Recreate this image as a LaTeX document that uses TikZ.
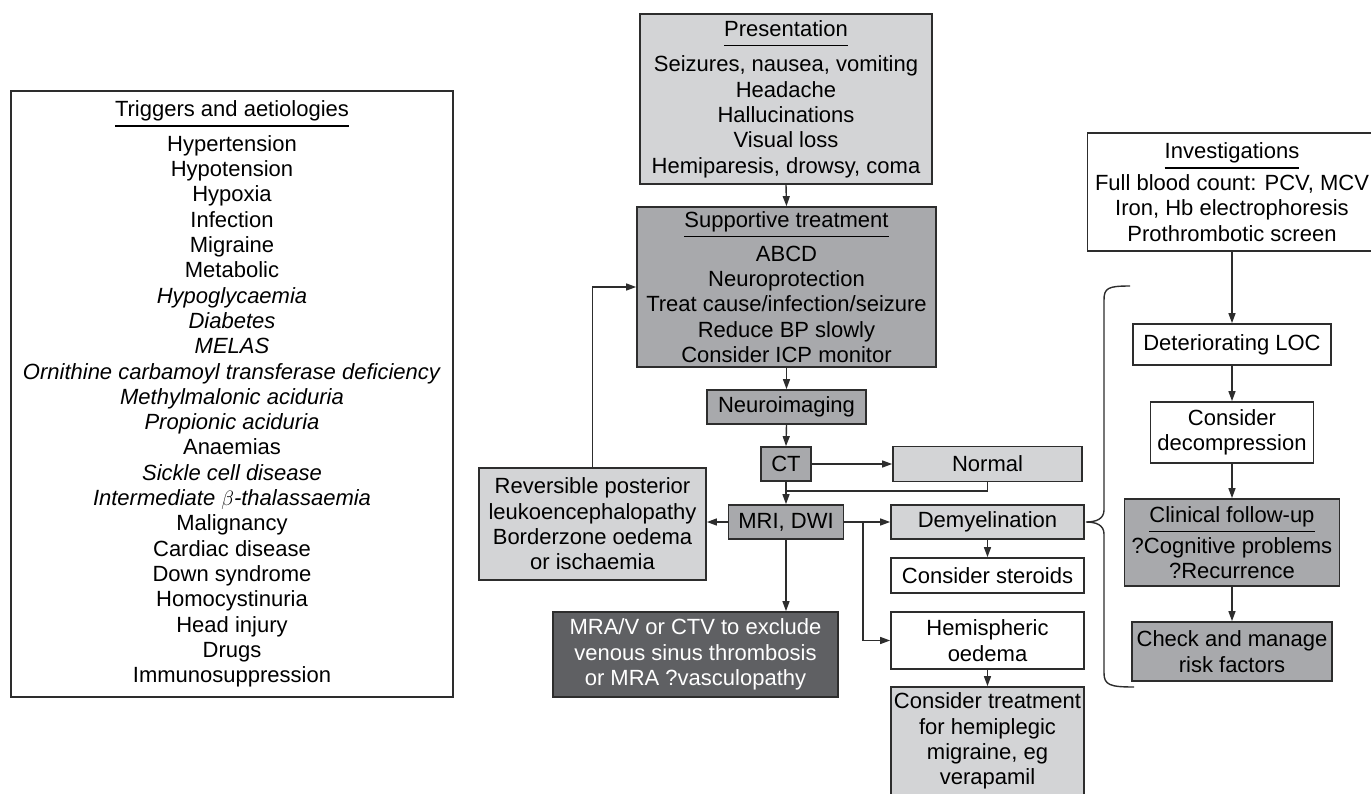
\documentclass[tikz,border=0pt]{standalone}
\usepackage{fontspec}
\setmainfont{Liberation Sans}
\usetikzlibrary{arrows.meta}

\definecolor{lightgrey}{RGB}{211,212,214}
\definecolor{midgrey}{RGB}{168,169,172}
\definecolor{darkgrey}{RGB}{95,96,99}
\definecolor{edgegrey}{RGB}{45,45,45}

\newcommand{\boxtitle}[1]{\setbox0\hbox{#1}\rlap{\rule[-10pt]{\wd0}{1.6pt}}\box0}

\tikzset{
  box/.style={draw=edgegrey, line width=1.7pt, align=center, inner sep=0pt,
    font=\fontsize{22}{25.3}\selectfont},
  plain/.style={box, fill=white},
  light/.style={box, fill=lightgrey},
  mid/.style={box, fill=midgrey},
  dark/.style={box, fill=darkgrey, text=white},
  link/.style={line width=1.4pt, draw=edgegrey},
  arr/.style={link, -{Triangle[length=10pt,width=7pt]}}
}

\begin{document}
\begin{tikzpicture}[x=1pt,y=-1pt]
    \useasboundingbox (0,0) rectangle (1371,793);
    \clip (0,0) rectangle (1371,793);

    % left column
    \node [plain, minimum width=442pt, minimum height=606pt] (trig) at (232,394)
      {\boxtitle{Triggers and aetiologies}\\[7.7pt]
       Hypertension\\ Hypotension\\ Hypoxia\\ Infection\\ Migraine\\ Metabolic\\
       \textit{Hypoglycaemia}\\ \textit{Diabetes}\\ \textit{MELAS}\\
       \textit{Ornithine carbamoyl transferase deficiency}\\
       \textit{Methylmalonic aciduria}\\ \textit{Propionic aciduria}\\
       Anaemias\\ \textit{Sickle cell disease}\\ \textit{Intermediate $\beta$-thalassaemia}\\
       Malignancy\\ Cardiac disease\\ Down syndrome\\ Homocystinuria\\
       Head injury\\ Drugs\\ Immunosuppression};

    % centre column
    \node [light, minimum width=292pt, minimum height=170pt] (pres) at (786,99)
      {\boxtitle{Presentation}\\[8.5pt]
       Seizures, nausea, vomiting\\ Headache\\ Hallucinations\\ Visual loss\\
       Hemiparesis, drowsy, coma};
    \node [mid, minimum width=299pt, minimum height=160pt] (supp) at (786.5,287)
      {\boxtitle{Supportive treatment}\\[7.7pt]
       ABCD\\ Neuroprotection\\ Treat cause/infection/seizure\\
       Reduce BP slowly\\ Consider ICP monitor};
    \node [mid, minimum width=159pt, minimum height=34pt] (neuro) at (786.5,407) {Neuroimaging};
    \node [mid, minimum width=50pt, minimum height=34pt] (ct) at (786,464) {CT};
    \node [light, minimum width=189pt, minimum height=35pt] (normal) at (987.5,464) {Normal};
    \node [mid, minimum width=115pt, minimum height=34pt] (mri) at (786,522) {MRI, DWI};
    \node [light, minimum width=227pt, minimum height=112pt] (rev) at (592.5,524)
      {Reversible posterior\\ leukoencephalopathy\\ Borderzone oedema\\ or ischaemia};
    \node [dark, minimum width=285pt, minimum height=85pt] (mra) at (695.5,654.5)
      {MRA/V or CTV to exclude\\ venous sinus thrombosis\\ or MRA ?vasculopathy};

    \node [light, minimum width=193pt, minimum height=34pt] (demy) at (987.5,522) {Demyelination};
    \node [plain, minimum width=193pt, minimum height=35pt] (ster) at (987.5,575.5) {Consider steroids};
    \node [plain, minimum width=193pt, minimum height=57pt] (hemi) at (987.5,640.5)
      {Hemispheric\\ oedema};
    \node [light, minimum width=193pt, minimum height=108pt] (treat) at (987.5,741)
      {Consider treatment\\ for hemiplegic\\ migraine, eg\\ verapamil};

    % right column
    \node [plain, minimum width=289pt, minimum height=118pt] (inv) at (1232,192)
      {\boxtitle{Investigations}\\[5pt]
       Full blood count: PCV, MCV\\ Iron, Hb electrophoresis\\ Prothrombotic screen};
    \node [plain, minimum width=198pt, minimum height=41pt] (det) at (1232,344.5) {Deteriorating LOC};
    \node [plain, minimum width=163pt, minimum height=61pt] (decomp) at (1232,432.5)
      {Consider\\ decompression};
    \node [mid, minimum width=215pt, minimum height=87pt] (clin) at (1232,542.5)
      {\boxtitle{Clinical follow-up}\\[4pt] ?Cognitive problems\\ ?Recurrence};
    \node [mid, minimum width=200pt, minimum height=59pt] (risk) at (1232,651.5)
      {Check and manage\\ risk factors};

    % connectors
    \coordinate (join) at (786,491);
    \coordinate (branch) at (863,522);

    \draw [arr] (pres.south) -- (supp.north);
    \draw [arr] (supp.south) -- (neuro.north);
    \draw [arr] (neuro.south) -- (ct.north);
    \draw [arr] (ct.east) -- (ct.east -| normal.west);
    \draw [link] (normal.south) |- (join);
    \draw [arr] (ct.south) -- (mri.north);
    \draw [arr] (mri.west) -- (mri.west -| rev.east);
    \draw [arr] (rev.north) |- (supp.west);
    \draw [arr] (mri.east) -- (demy.west);
    \draw [arr] (branch) |- (hemi.west);
    \draw [arr] (mri.south) -- (mri.south |- mra.north);
    \draw [arr] (demy.south) -- (ster.north);
    \draw [arr] (hemi.south) -- (treat.north);

    \draw [arr] (inv.south) -- (det.north);
    \draw [arr] (det.south) -- (decomp.north);
    \draw [arr] (decomp.south) -- (clin.north);
    \draw [arr] (clin.south) -- (risk.north);

    % brace
    \draw [link] (1130,286) .. controls (1108,286) and (1104,288) .. (1104,300)
      -- (1104,510) .. controls (1104,519) and (1096,522) .. (1086,522)
      .. controls (1096,522) and (1104,525) .. (1104,534)
      -- (1104,673) .. controls (1104,685) and (1110,687) .. (1134,687);
\end{tikzpicture}
\end{document}
